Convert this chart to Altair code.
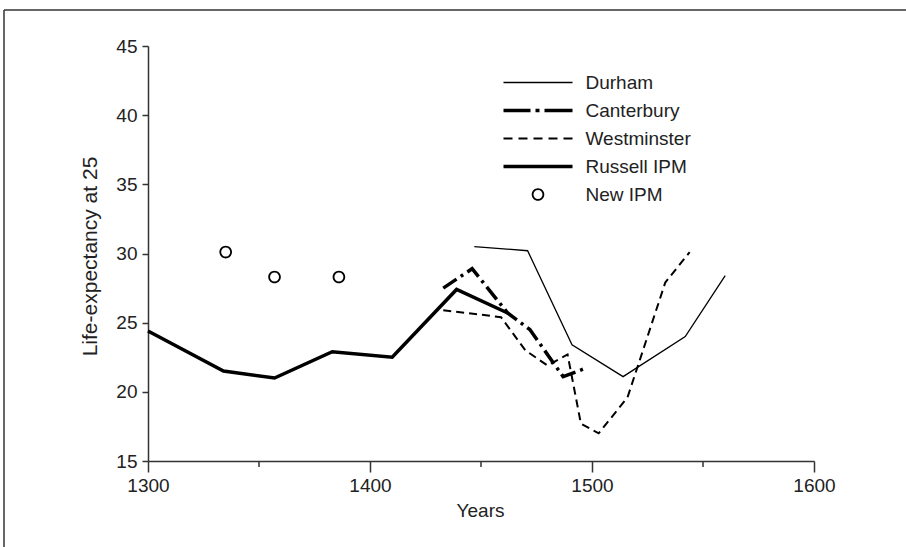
import altair as alt
import pandas as pd

# ---------------- data ----------------
series_names = ["Durham", "Canterbury", "Westminster", "Russell IPM", "New IPM"]

durham_years = [1447, 1471, 1491, 1514, 1542, 1560]
durham_values = [30.5, 30.2, 23.4, 21.1, 24.0, 28.4]

canterbury_years = [1433, 1446, 1462, 1472, 1487, 1497]
canterbury_values = [27.5, 28.9, 25.7, 24.5, 21.1, 21.7]

westminster_years = [1433, 1459, 1470, 1480, 1489, 1495, 1503, 1516, 1533, 1544]
westminster_values = [25.9, 25.4, 23.0, 21.9, 22.7, 17.7, 17.0, 19.6, 27.9, 30.1]

russell_years = [1300, 1334, 1357, 1383, 1410, 1439, 1462]
russell_values = [24.4, 21.5, 21.0, 22.9, 22.5, 27.4, 25.7]

new_ipm_years = [1335, 1357, 1386]
new_ipm_values = [30.1, 28.3, 28.3]

x_major_ticks = [1300, 1400, 1500, 1600]
x_minor_ticks = [1350, 1450, 1550]
y_ticks = [15, 20, 25, 30, 35, 40, 45]

# ---------------- tables ----------------
rows = []
for name, ys, vs in [("Durham", durham_years, durham_values),
                     ("Canterbury", canterbury_years, canterbury_values),
                     ("Westminster", westminster_years, westminster_values),
                     ("Russell IPM", russell_years, russell_values)]:
    for y, v in zip(ys, vs):
        rows.append({"series": name, "year": y, "value": v})
lines_df = pd.DataFrame(rows)
points_df = pd.DataFrame({"series": "New IPM", "year": new_ipm_years, "value": new_ipm_values})
minor_df = pd.DataFrame({"year": x_minor_ticks})

# ---------------- legend / point symbols (custom paths) ----------------
SYM_SIZE = 196
U = (SYM_SIZE ** 0.5) / 2.0  # px per path unit


def bar(x0, x1, h):
    a, b, t = x0 / U, x1 / U, h / 2 / U
    return f"M{a:.4f},{-t:.4f}L{b:.4f},{-t:.4f}L{b:.4f},{t:.4f}L{a:.4f},{t:.4f}Z"


def circ(r, cw):
    k = 0.5523 * r / U
    r = r / U
    if cw:
        return (f"M{r:.4f},0C{r:.4f},{k:.4f} {k:.4f},{r:.4f} 0,{r:.4f}"
                f"C{-k:.4f},{r:.4f} {-r:.4f},{k:.4f} {-r:.4f},0"
                f"C{-r:.4f},{-k:.4f} {-k:.4f},{-r:.4f} 0,{-r:.4f}"
                f"C{k:.4f},{-r:.4f} {r:.4f},{-k:.4f} {r:.4f},0Z")
    return (f"M{r:.4f},0C{r:.4f},{-k:.4f} {k:.4f},{-r:.4f} 0,{-r:.4f}"
            f"C{-k:.4f},{-r:.4f} {-r:.4f},{-k:.4f} {-r:.4f},0"
            f"C{-r:.4f},{k:.4f} {-k:.4f},{r:.4f} 0,{r:.4f}"
            f"C{k:.4f},{r:.4f} {r:.4f},{k:.4f} {r:.4f},0Z")


L = 34.5
shape_paths = [
    bar(-L, L, 1.3),
    bar(-L, -7.5, 3.6) + bar(-2.5, 1.5, 3.6) + bar(6.5, L, 3.6),
    "".join(bar(s, s + 9, 2.0) for s in [-34.5, -19.5, -4.5, 10.5, 25.5]),
    bar(-L, L, 3.6),
    circ(6.3, True) + circ(4.5, False),
]

FONT = "Liberation Sans"
TEXT = "#222222"
AXC = "#333333"

xscale = alt.Scale(domain=[1300, 1600], nice=False, zero=False)
yscale = alt.Scale(domain=[15, 45], nice=False, zero=False)

x_axis = alt.Axis(values=x_major_ticks, tickSize=11, tickWidth=1.5, tickColor=AXC,
                  domainColor=AXC, domainWidth=1.5, grid=False,
                  format="d", labelFlush=False, labelOverlap=False,
                  labelFont=FONT, labelFontSize=19, labelColor=TEXT, labelPadding=4,
                  title="Years", titleFont=FONT, titleFontSize=19,
                  titleFontWeight="normal", titleColor=TEXT,
                  titleX=332, titleY=55, titleBaseline="alphabetic", titleAlign="center")
y_axis = alt.Axis(values=y_ticks, tickSize=6, tickWidth=1.5, tickColor=AXC,
                  domainColor=AXC, domainWidth=1.5, grid=False,
                  labelFlush=False, labelOverlap=False,
                  labelFont=FONT, labelFontSize=19, labelColor=TEXT, labelPadding=5,
                  title="Life-expectancy at 25", titleFont=FONT, titleFontSize=21,
                  titleFontWeight="normal", titleColor=TEXT, titleAngle=-90,
                  titleX=-58, titleY=210, titleBaseline="middle", titleAlign="center")

X = alt.X("year:Q", scale=xscale, axis=x_axis)
Y = alt.Y("value:Q", scale=yscale, axis=y_axis)

base = alt.Chart(lines_df)


def line_layer(name, width, dash=None):
    kw = {"strokeWidth": width, "color": "black", "strokeJoin": "miter"}
    if dash is not None:
        kw["strokeDash"] = dash
    return base.transform_filter(alt.datum.series == name).mark_line(**kw).encode(x=X, y=Y)


russell = line_layer("Russell IPM", 3.5)
durham = line_layer("Durham", 1.3)
canterbury = line_layer("Canterbury", 3.5, [16, 5, 3, 5])
westminster = line_layer("Westminster", 2.0, [8, 5])

points = alt.Chart(points_df).mark_point(
    filled=True, size=SYM_SIZE, opacity=1, strokeWidth=0, color="black"
).encode(
    x=X, y=Y,
    shape=alt.Shape("series:N",
                    scale=alt.Scale(domain=series_names, range=shape_paths),
                    legend=alt.Legend(orient="none", legendX=355, legendY=27, title=None,
                                      symbolSize=SYM_SIZE, symbolStrokeWidth=0,
                                      symbolFillColor="black", symbolOpacity=1,
                                      symbolOffset=25.5, labelOffset=38, rowPadding=8,
                                      padding=0, labelFont=FONT, labelFontSize=19,
                                      labelColor=TEXT, labelLimit=300)),
)

# minor ticks on the x axis at the half-centuries
minor_ticks = alt.Chart(minor_df).mark_rule(color=AXC, strokeWidth=1.5).encode(
    x=X, y=alt.value(415), y2=alt.value(421))

frame_df = pd.DataFrame({"k": [0]})
frame_top = alt.Chart(frame_df).mark_rule(color=AXC, strokeWidth=1.5).encode(
    x=alt.value(-144), x2=alt.value(760), y=alt.value(-36))
frame_left = alt.Chart(frame_df).mark_rule(color=AXC, strokeWidth=1.5).encode(
    x=alt.value(-144), y=alt.value(-36), y2=alt.value(505))

chart = alt.layer(
    russell, durham, westminster, canterbury, points, minor_ticks, frame_top, frame_left
).properties(
    width=666, height=415,
    autosize=alt.AutoSizeParams(type="none"),
    padding={"left": 148, "top": 46, "right": 92, "bottom": 86},
    background="white",
).configure_view(stroke=None)

chart.save("out.html", embed_options={"renderer": "svg", "actions": False})
